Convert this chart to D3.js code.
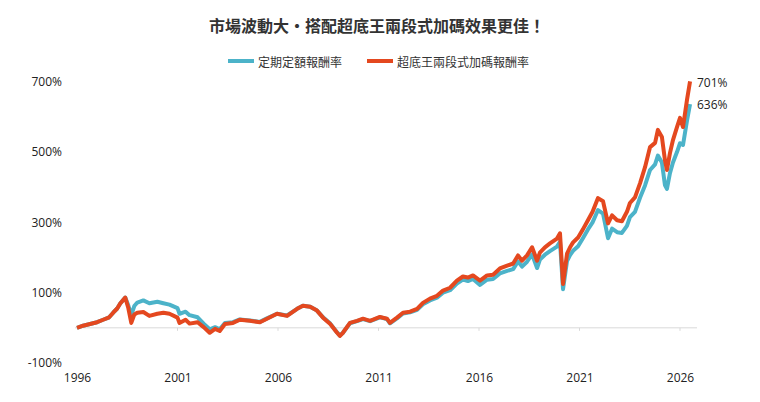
<!DOCTYPE html>
<html>
<head>
<meta charset="utf-8">
<script src="https://cdn.jsdelivr.net/npm/d3@7"></script>
<style>
  body { margin: 0; background: #fff; }
  svg { display: block; font-family: "Noto Sans CJK TC", "Open Sans", sans-serif; }
</style>
</head>
<body>
<div id="chart"></div>
<script>
"use strict"

// values (decimal year, cumulative return in %)
var dates = [
  1996.00, 1996.30, 1996.65, 1997.00, 1997.30, 1997.60, 1997.80, 1998.00, 1998.15, 1998.40,
  1998.55, 1998.70, 1998.85, 1999.00, 1999.30, 1999.60, 2000.00, 2000.30, 2000.60, 2001.00,
  2001.10, 2001.40, 2001.60, 2002.00, 2002.30, 2002.60, 2002.87, 2003.10, 2003.36, 2003.76,
  2004.10, 2004.60, 2005.10, 2005.45, 2005.95, 2006.45, 2006.95, 2007.24, 2007.60, 2007.94,
  2008.24, 2008.60, 2008.94, 2009.08, 2009.23, 2009.58, 2009.93, 2010.23, 2010.58, 2011.07,
  2011.42, 2011.57, 2011.92, 2012.22, 2012.57, 2012.92, 2013.21, 2013.56, 2013.91, 2014.21,
  2014.56, 2014.90, 2015.20, 2015.45, 2015.70, 2016.05, 2016.40, 2016.70, 2017.04, 2017.40,
  2017.70, 2017.94, 2018.14, 2018.39, 2018.64, 2018.89, 2019.03, 2019.28, 2019.53, 2019.88,
  2020.03, 2020.18, 2020.38, 2020.53, 2020.68, 2020.93, 2021.17, 2021.42, 2021.65, 2021.92,
  2022.17, 2022.42, 2022.62, 2022.87, 2023.11, 2023.36, 2023.51, 2023.76, 2024.01, 2024.26,
  2024.51, 2024.76, 2024.90, 2025.10, 2025.25, 2025.35, 2025.50, 2025.65, 2025.85, 2026.00,
  2026.15, 2026.35, 2026.50
];

var dcaReturn = [ // 定期定額
  0, 6, 11, 16, 23, 30, 43, 55, 69, 86,
  64, 36, 62, 72, 78, 70, 74, 70, 66, 56,
  40, 46, 36, 30, 12, -4, 2, -4, 14, 16,
  24, 21, 17, 27, 40, 35, 54, 63, 60, 49,
  30, 12, -13, -22, -14, 13, 19, 25, 19, 30,
  25, 13, 27, 41, 44, 51, 67, 78, 86, 100,
  107, 126, 137, 133, 139, 122, 137, 139, 155, 162,
  167, 189, 174, 188, 209, 170, 194, 208, 218, 231,
  245, 110, 190, 207, 219, 232, 255, 280, 300, 335,
  325, 255, 282, 272, 270, 290, 315, 330, 370, 405,
  449, 465, 490, 470, 406, 395, 440, 470, 500, 525,
  520, 590, 636
];

var superReturn = [ // 超底王兩段式加碼
  0, 6, 11, 16, 23, 30, 43, 55, 69, 86,
  57, 14, 38, 43, 45, 34, 40, 43, 40, 29,
  14, 23, 12, 16, 2, -14, -3, -9, 11, 14,
  23, 20, 16, 26, 40, 34, 54, 63, 60, 49,
  29, 11, -14, -23, -14, 14, 20, 26, 20, 31,
  26, 14, 29, 43, 46, 54, 71, 83, 91, 106,
  114, 134, 146, 143, 149, 134, 149, 151, 169, 177,
  183, 206, 191, 206, 229, 191, 214, 229, 240, 254,
  269, 125, 211, 229, 243, 257, 280, 306, 330, 369,
  360, 297, 320, 306, 303, 330, 355, 371, 411, 457,
  514, 526, 563, 543, 477, 449, 497, 534, 571, 597,
  571, 649, 701
];

var seriesNames = ["定期定額報酬率", "超底王兩段式加碼報酬率"];
var seriesColors = ["#4cb3c9", "#e4481f"];
var yTicks = [-100, 100, 300, 500, 700];
var xTicks = [1996, 2001, 2006, 2011, 2016, 2021, 2026];
var title = "市場波動大・搭配超底王兩段式加碼效果更佳！";

var width = 760;
var height = 402;

var x = d3.scaleLinear().domain([1996, 2026]).range([77, 680]);
var y = d3.scaleLinear().domain([-100, 700]).range([363, 81.7]);

var svg = d3.select("#chart").append("svg")
  .attr("width", width)
  .attr("height", height);

// title
svg.append("text")
  .attr("x", 377)
  .attr("y", 25)
  .attr("text-anchor", "middle")
  .attr("dominant-baseline", "central")
  .attr("font-size", 16)
  .attr("font-weight", "bold")
  .attr("fill", "#333")
  .text(title);

// legend
var legendX = [228, 367];
seriesNames.forEach(function(name, i) {
  var g = svg.append("g").attr("transform", "translate(" + legendX[i] + ",61)");
  g.append("line")
    .attr("x1", 0).attr("x2", 26)
    .attr("stroke", seriesColors[i])
    .attr("stroke-width", 4);
  g.append("text")
    .attr("x", 30)
    .attr("dominant-baseline", "central")
    .attr("font-size", 12)
    .attr("fill", "#333")
    .text(name);
});

// zero line
svg.append("line")
  .attr("x1", 75).attr("x2", 697)
  .attr("y1", y(0)).attr("y2", y(0))
  .attr("stroke", "#d9d9d9")
  .attr("stroke-width", 1);

svg.append("g").selectAll("line")
  .data(xTicks.slice(1))
  .join("line")
  .attr("x1", function(d) { return x(d); })
  .attr("x2", function(d) { return x(d); })
  .attr("y1", y(0))
  .attr("y2", y(0) + 3)
  .attr("stroke", "#d9d9d9");

// y axis labels
var yAxis = d3.axisLeft(y).tickValues(yTicks)
  .tickFormat(function(d) { return d + "%"; })
  .tickSize(0).tickPadding(0);
var yg = svg.append("g").attr("transform", "translate(62,0)").call(yAxis);
yg.select(".domain").remove();
yg.selectAll("text")
  .attr("font-family", "'Open Sans', sans-serif")
  .attr("font-size", 12)
  .attr("fill", "#222");

// x axis labels
var xAxis = d3.axisBottom(x).tickValues(xTicks)
  .tickFormat(d3.format("d"))
  .tickSize(0).tickPadding(0);
var xg = svg.append("g").attr("transform", "translate(0,373)").call(xAxis);
xg.select(".domain").remove();
xg.selectAll("text")
  .attr("font-family", "'Open Sans', sans-serif")
  .attr("font-size", 12)
  .attr("fill", "#222");

// lines
var line = d3.line()
  .x(function(d) { return x(d[0]); })
  .y(function(d) { return y(d[1]); });

[dcaReturn, superReturn].forEach(function(vals, i) {
  var pts = dates.map(function(d, j) { return [d, vals[j]]; });
  svg.append("path")
    .datum(pts)
    .attr("fill", "none")
    .attr("stroke", seriesColors[i])
    .attr("stroke-width", 4)
    .attr("stroke-linejoin", "round")
    .attr("d", line);
});

// end labels
var endLabels = [superReturn[superReturn.length - 1], dcaReturn[dcaReturn.length - 1]];
var endY = [82, 104];
endLabels.forEach(function(v, i) {
  svg.append("text")
    .attr("x", 697)
    .attr("y", endY[i])
    .attr("dominant-baseline", "central")
    .attr("font-family", "'Open Sans', sans-serif")
    .attr("font-size", 12)
    .attr("fill", "#222")
    .text(v + "%");
});
</script>
</body>
</html>
